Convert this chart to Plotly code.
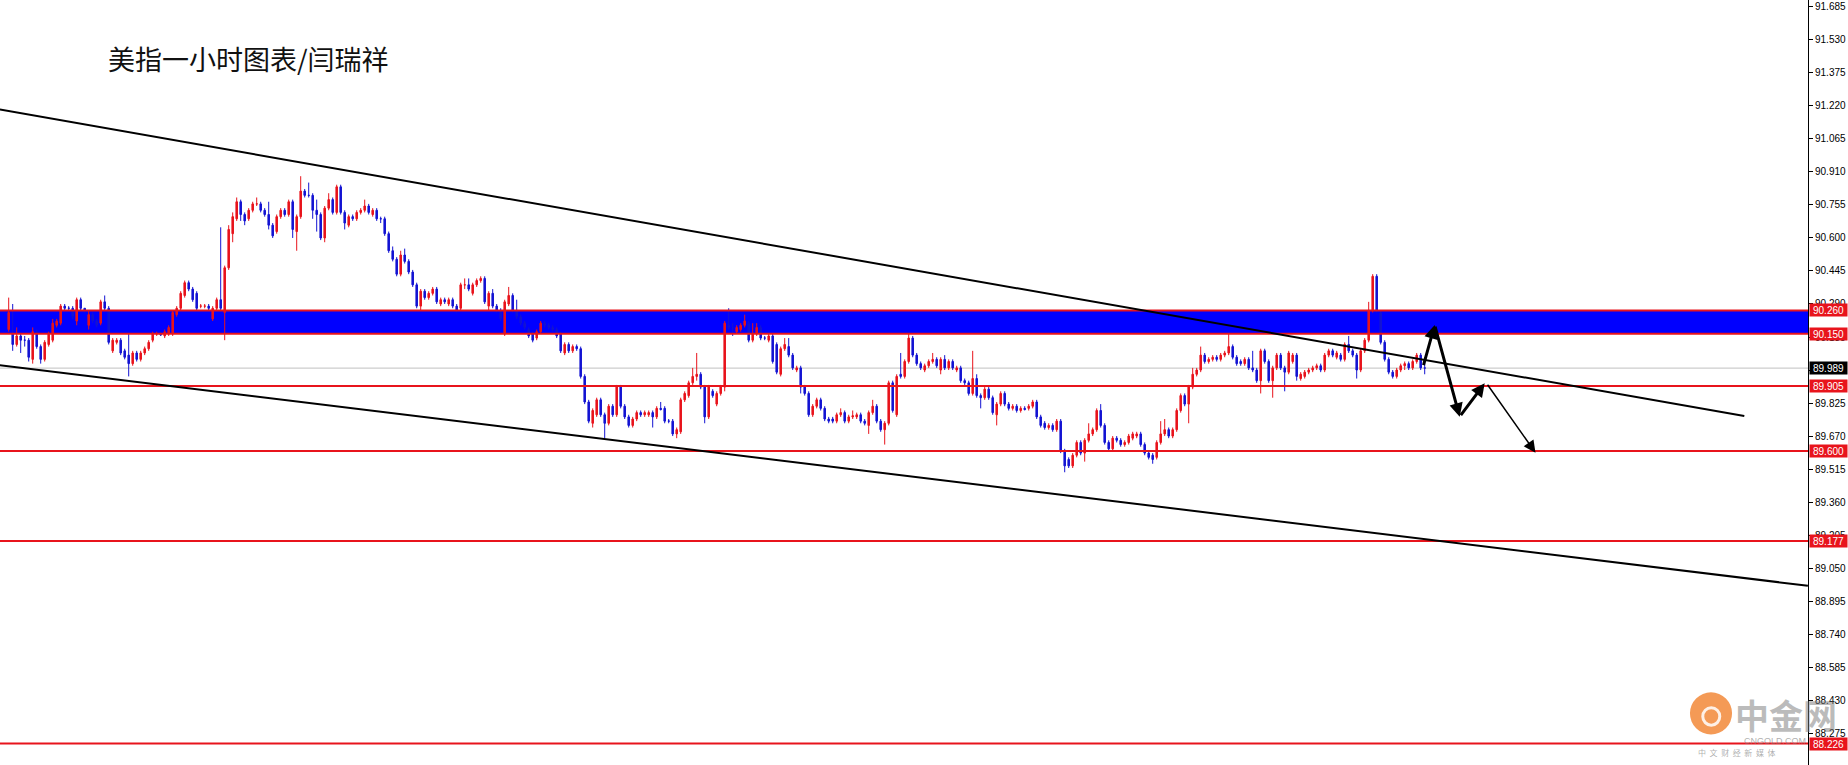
import plotly.graph_objects as go

# ---- hourly candles (bar index 0..354) ----
opens = [
    90.17, 90.15, 90.10, 90.14, 90.12, 90.12, 90.03, 90.16, 90.09, 90.03,
    90.10, 90.12, 90.19, 90.20, 90.28, 90.27, 90.27, 90.21, 90.31, 90.27,
    90.19, 90.24, 90.21, 90.20, 90.30, 90.27, 90.07, 90.11, 90.12, 90.07,
    90.05, 90.01, 90.06, 90.03, 90.06, 90.08, 90.12, 90.15, 90.15, 90.14,
    90.15, 90.15, 90.24, 90.27, 90.33, 90.39, 90.36, 90.34, 90.28, 90.28,
    90.28, 90.22, 90.27, 90.31, 90.25, 90.46, 90.62, 90.69, 90.77, 90.71,
    90.69, 90.73, 90.76, 90.76, 90.73, 90.71, 90.66, 90.63, 90.70, 90.73,
    90.71, 90.77, 90.63, 90.70, 90.82, 90.80, 90.80, 90.73, 90.71, 90.60,
    90.74, 90.78, 90.72, 90.84, 90.72, 90.66, 90.70, 90.69, 90.72, 90.73,
    90.75, 90.71, 90.73, 90.69, 90.69, 90.62, 90.54, 90.50, 90.43, 90.52,
    90.49, 90.44, 90.38, 90.28, 90.35, 90.32, 90.34, 90.36, 90.29, 90.31,
    90.29, 90.31, 90.28, 90.27, 90.38, 90.38, 90.34, 90.38, 90.40, 90.41,
    90.28, 90.34, 90.28, 90.26, 90.15, 90.29, 90.33, 90.26, 90.23, 90.20,
    90.17, 90.15, 90.13, 90.16, 90.20, 90.19, 90.18, 90.17, 90.15, 90.06,
    90.10, 90.07, 90.09, 90.08, 89.95, 89.83, 89.73, 89.77, 89.84, 89.77,
    89.73, 89.81, 89.77, 89.90, 89.81, 89.76, 89.72, 89.75, 89.78, 89.77,
    89.77, 89.78, 89.76, 89.80, 89.80, 89.74, 89.74, 89.68, 89.69, 89.84,
    89.86, 89.92, 89.95, 89.96, 89.90, 89.76, 89.88, 89.82, 89.87, 89.90,
    90.19, 90.18, 90.16, 90.17, 90.19, 90.20, 90.12, 90.15, 90.18, 90.13,
    90.12, 90.14, 90.10, 89.96, 90.08, 90.09, 90.05, 89.98, 89.99, 89.90,
    89.87, 89.77, 89.81, 89.84, 89.80, 89.75, 89.75, 89.74, 89.77, 89.78,
    89.74, 89.76, 89.76, 89.77, 89.74, 89.72, 89.78, 89.81, 89.74, 89.70,
    89.73, 89.92, 89.77, 89.96, 89.95, 90.02, 90.13, 90.05, 90.01, 89.98,
    90.00, 90.02, 90.03, 89.98, 90.03, 89.99, 90.02, 89.98, 89.99, 89.93,
    89.92, 89.87, 89.94, 89.86, 89.85, 89.89, 89.85, 89.77, 89.82, 89.87,
    89.82, 89.80, 89.81, 89.79, 89.80, 89.80, 89.81, 89.83, 89.76, 89.73,
    89.71, 89.72, 89.70, 89.74, 89.60, 89.56, 89.53, 89.58, 89.64, 89.59,
    89.65, 89.68, 89.70, 89.79, 89.72, 89.64, 89.61, 89.66, 89.65, 89.63,
    89.64, 89.66, 89.67, 89.68, 89.63, 89.59, 89.58, 89.57, 89.64, 89.68,
    89.70, 89.67, 89.70, 89.79, 89.86, 89.82, 89.90, 89.96, 89.98, 90.05,
    90.02, 90.03, 90.04, 90.03, 90.05, 90.06, 90.09, 90.04, 90.02, 90.01,
    90.03, 89.99, 89.98, 89.93, 90.07, 90.02, 89.93, 89.99, 90.05, 89.99,
    89.97, 90.02, 90.05, 89.94, 89.95, 89.97, 89.98, 89.99, 90.00, 89.98,
    90.05, 90.07, 90.04, 90.05, 90.03, 90.10, 90.07, 90.05, 89.98, 90.07,
    90.12, 90.26, 90.42, 90.25, 90.11, 90.03, 89.97, 89.95, 89.98, 90.00,
    90.01, 89.99, 90.02, 90.05, 89.99,
]
highs = [
    90.32, 90.29, 90.18, 90.15, 90.14, 90.13, 90.18, 90.17, 90.10, 90.12,
    90.16, 90.22, 90.22, 90.29, 90.29, 90.28, 90.28, 90.32, 90.32, 90.27,
    90.26, 90.25, 90.22, 90.31, 90.33, 90.28, 90.13, 90.13, 90.13, 90.08,
    90.15, 90.07, 90.07, 90.07, 90.09, 90.12, 90.16, 90.16, 90.16, 90.17,
    90.19, 90.26, 90.28, 90.35, 90.40, 90.40, 90.37, 90.35, 90.29, 90.29,
    90.29, 90.28, 90.32, 90.65, 90.47, 90.66, 90.72, 90.79, 90.78, 90.72,
    90.74, 90.77, 90.79, 90.77, 90.74, 90.77, 90.67, 90.71, 90.74, 90.74,
    90.78, 90.78, 90.71, 90.89, 90.83, 90.86, 90.81, 90.78, 90.72, 90.75,
    90.81, 90.79, 90.85, 90.85, 90.73, 90.71, 90.71, 90.73, 90.74, 90.78,
    90.76, 90.74, 90.74, 90.70, 90.70, 90.63, 90.56, 90.51, 90.54, 90.55,
    90.50, 90.45, 90.39, 90.36, 90.36, 90.35, 90.37, 90.37, 90.32, 90.32,
    90.32, 90.32, 90.29, 90.39, 90.41, 90.41, 90.39, 90.41, 90.42, 90.42,
    90.35, 90.36, 90.29, 90.27, 90.31, 90.37, 90.34, 90.31, 90.24, 90.21,
    90.18, 90.16, 90.17, 90.21, 90.21, 90.20, 90.19, 90.18, 90.16, 90.11,
    90.11, 90.10, 90.10, 90.09, 89.96, 89.84, 89.80, 89.85, 89.85, 89.78,
    89.82, 89.82, 89.91, 89.91, 89.82, 89.77, 89.76, 89.79, 89.79, 89.79,
    89.79, 89.79, 89.81, 89.83, 89.81, 89.75, 89.75, 89.71, 89.85, 89.88,
    89.93, 89.99, 90.06, 89.97, 89.91, 89.91, 89.89, 89.88, 89.91, 90.21,
    90.27, 90.20, 90.19, 90.20, 90.24, 90.21, 90.20, 90.20, 90.19, 90.14,
    90.15, 90.15, 90.11, 90.09, 90.13, 90.13, 90.06, 90.00, 90.00, 89.91,
    89.88, 89.82, 89.85, 89.85, 89.81, 89.76, 89.76, 89.78, 89.80, 89.79,
    89.77, 89.79, 89.78, 89.78, 89.75, 89.79, 89.84, 89.82, 89.75, 89.74,
    89.93, 89.93, 89.96, 90.06, 90.03, 90.15, 90.14, 90.06, 90.02, 90.01,
    90.03, 90.06, 90.04, 90.04, 90.05, 90.03, 90.03, 90.00, 90.00, 89.94,
    89.93, 90.07, 89.96, 89.87, 89.90, 89.90, 89.86, 89.83, 89.88, 89.88,
    89.83, 89.82, 89.82, 89.81, 89.81, 89.82, 89.84, 89.84, 89.77, 89.74,
    89.73, 89.73, 89.75, 89.75, 89.61, 89.57, 89.59, 89.65, 89.65, 89.66,
    89.73, 89.71, 89.80, 89.82, 89.73, 89.65, 89.67, 89.67, 89.66, 89.65,
    89.68, 89.69, 89.69, 89.69, 89.64, 89.60, 89.59, 89.65, 89.74, 89.75,
    89.71, 89.71, 89.80, 89.87, 89.87, 89.91, 89.99, 89.99, 90.09, 90.06,
    90.04, 90.05, 90.05, 90.06, 90.07, 90.15, 90.10, 90.05, 90.03, 90.04,
    90.04, 90.07, 89.99, 90.08, 90.08, 90.03, 90.00, 90.06, 90.06, 90.00,
    90.07, 90.06, 90.06, 89.97, 89.98, 89.99, 90.00, 90.01, 90.01, 90.06,
    90.08, 90.08, 90.07, 90.06, 90.11, 90.14, 90.08, 90.06, 90.08, 90.13,
    90.30, 90.43, 90.43, 90.26, 90.12, 90.04, 89.98, 89.99, 90.01, 90.02,
    90.02, 90.03, 90.06, 90.06, 90.04,
]
lows = [
    90.16, 90.07, 90.09, 90.06, 90.09, 90.02, 90.01, 90.08, 90.01, 90.02,
    90.09, 90.11, 90.18, 90.19, 90.26, 90.26, 90.22, 90.19, 90.26, 90.25,
    90.17, 90.20, 90.18, 90.19, 90.26, 90.10, 90.06, 90.10, 90.05, 90.03,
    89.95, 90.00, 90.02, 90.02, 90.05, 90.07, 90.11, 90.14, 90.14, 90.13,
    90.14, 90.14, 90.23, 90.26, 90.32, 90.35, 90.30, 90.26, 90.27, 90.27,
    90.26, 90.21, 90.26, 90.26, 90.12, 90.45, 90.58, 90.68, 90.68, 90.66,
    90.68, 90.72, 90.75, 90.72, 90.70, 90.64, 90.60, 90.62, 90.69, 90.70,
    90.70, 90.60, 90.54, 90.69, 90.79, 90.79, 90.69, 90.63, 90.59, 90.58,
    90.73, 90.71, 90.71, 90.71, 90.64, 90.65, 90.68, 90.68, 90.71, 90.72,
    90.71, 90.70, 90.68, 90.67, 90.61, 90.53, 90.49, 90.42, 90.42, 90.48,
    90.43, 90.37, 90.27, 90.26, 90.31, 90.31, 90.33, 90.29, 90.28, 90.29,
    90.28, 90.27, 90.25, 90.26, 90.36, 90.35, 90.33, 90.37, 90.39, 90.29,
    90.26, 90.27, 90.25, 90.21, 90.14, 90.28, 90.25, 90.22, 90.19, 90.17,
    90.13, 90.11, 90.12, 90.15, 90.18, 90.17, 90.16, 90.13, 90.06, 90.05,
    90.06, 90.06, 90.07, 89.94, 89.82, 89.73, 89.71, 89.76, 89.76, 89.66,
    89.72, 89.76, 89.76, 89.80, 89.75, 89.71, 89.71, 89.74, 89.76, 89.76,
    89.76, 89.71, 89.75, 89.79, 89.73, 89.73, 89.67, 89.66, 89.68, 89.83,
    89.85, 89.91, 89.93, 89.89, 89.73, 89.75, 89.85, 89.81, 89.86, 89.88,
    90.17, 90.14, 90.15, 90.16, 90.18, 90.11, 90.11, 90.14, 90.12, 90.12,
    90.11, 90.01, 89.96, 89.95, 90.07, 90.04, 89.98, 89.97, 89.87, 89.86,
    89.76, 89.76, 89.80, 89.79, 89.74, 89.73, 89.73, 89.73, 89.76, 89.73,
    89.73, 89.75, 89.75, 89.73, 89.72, 89.68, 89.77, 89.73, 89.69, 89.63,
    89.72, 89.78, 89.76, 89.94, 89.94, 90.01, 90.04, 90.00, 89.98, 89.97,
    89.99, 90.01, 89.99, 89.96, 89.98, 89.98, 89.98, 89.97, 89.92, 89.91,
    89.86, 89.86, 89.85, 89.80, 89.84, 89.84, 89.77, 89.72, 89.81, 89.81,
    89.79, 89.79, 89.78, 89.78, 89.79, 89.79, 89.80, 89.75, 89.71, 89.70,
    89.70, 89.69, 89.69, 89.59, 89.50, 89.52, 89.52, 89.57, 89.58, 89.55,
    89.64, 89.67, 89.69, 89.71, 89.63, 89.60, 89.60, 89.64, 89.62, 89.62,
    89.63, 89.65, 89.66, 89.62, 89.58, 89.56, 89.54, 89.56, 89.63, 89.67,
    89.66, 89.66, 89.69, 89.78, 89.81, 89.73, 89.89, 89.95, 89.97, 90.01,
    90.01, 90.02, 90.02, 90.02, 90.04, 90.05, 90.03, 90.00, 90.00, 90.00,
    89.98, 89.97, 89.92, 89.87, 90.01, 89.92, 89.85, 89.98, 89.98, 89.88,
    89.96, 90.01, 89.93, 89.93, 89.94, 89.96, 89.97, 89.98, 89.97, 89.97,
    90.04, 90.04, 90.03, 90.02, 90.02, 90.06, 90.04, 89.94, 89.97, 90.06,
    90.11, 90.25, 90.25, 90.10, 90.02, 89.96, 89.94, 89.94, 89.97, 89.98,
    89.98, 89.98, 90.01, 89.98, 89.96,
]
closes = [
    90.25, 90.10, 90.14, 90.12, 90.12, 90.04, 90.16, 90.09, 90.03, 90.11,
    90.15, 90.20, 90.21, 90.28, 90.27, 90.27, 90.23, 90.31, 90.27, 90.26,
    90.24, 90.21, 90.19, 90.30, 90.27, 90.11, 90.12, 90.12, 90.06, 90.04,
    90.01, 90.06, 90.03, 90.06, 90.08, 90.11, 90.15, 90.15, 90.145, 90.16,
    90.18, 90.25, 90.27, 90.34, 90.39, 90.36, 90.31, 90.27, 90.28, 90.28,
    90.27, 90.27, 90.31, 90.27, 90.46, 90.64, 90.70, 90.77, 90.71, 90.68,
    90.73, 90.76, 90.76, 90.73, 90.71, 90.66, 90.61, 90.70, 90.73, 90.71,
    90.77, 90.64, 90.70, 90.82, 90.80, 90.80, 90.73, 90.71, 90.60, 90.74,
    90.78, 90.72, 90.84, 90.72, 90.67, 90.70, 90.69, 90.72, 90.73, 90.75,
    90.72, 90.73, 90.69, 90.69, 90.62, 90.54, 90.50, 90.43, 90.52, 90.49,
    90.44, 90.38, 90.28, 90.35, 90.32, 90.34, 90.36, 90.30, 90.31, 90.30,
    90.31, 90.28, 90.26, 90.38, 90.38, 90.36, 90.38, 90.40, 90.41, 90.30,
    90.34, 90.28, 90.26, 90.22, 90.30, 90.33, 90.26, 90.23, 90.20, 90.18,
    90.14, 90.12, 90.16, 90.20, 90.19, 90.18, 90.17, 90.14, 90.07, 90.10,
    90.07, 90.09, 90.08, 89.95, 89.83, 89.74, 89.79, 89.84, 89.77, 89.73,
    89.81, 89.77, 89.90, 89.81, 89.76, 89.72, 89.75, 89.78, 89.77, 89.78,
    89.78, 89.76, 89.80, 89.795, 89.74, 89.74, 89.68, 89.70, 89.84, 89.87,
    89.92, 89.95, 89.96, 89.90, 89.76, 89.90, 89.86, 89.87, 89.90, 90.20,
    90.18, 90.18, 90.18, 90.19, 90.21, 90.12, 90.15, 90.18, 90.13, 90.13,
    90.14, 90.02, 89.97, 90.08, 90.10, 90.05, 89.99, 89.99, 89.90, 89.87,
    89.77, 89.81, 89.84, 89.80, 89.75, 89.74, 89.74, 89.77, 89.78, 89.74,
    89.76, 89.765, 89.77, 89.74, 89.73, 89.78, 89.81, 89.74, 89.70, 89.73,
    89.92, 89.79, 89.95, 89.95, 90.02, 90.13, 90.05, 90.01, 89.99, 90.00,
    90.02, 90.03, 90.00, 90.03, 89.99, 90.02, 89.99, 89.99, 89.93, 89.92,
    89.87, 89.94, 89.86, 89.85, 89.89, 89.85, 89.78, 89.82, 89.87, 89.82,
    89.80, 89.81, 89.79, 89.80, 89.795, 89.81, 89.83, 89.76, 89.72, 89.71,
    89.72, 89.70, 89.74, 89.60, 89.53, 89.53, 89.58, 89.64, 89.59, 89.65,
    89.68, 89.70, 89.79, 89.72, 89.64, 89.61, 89.66, 89.65, 89.63, 89.64,
    89.67, 89.68, 89.68, 89.63, 89.59, 89.57, 89.56, 89.64, 89.68, 89.70,
    89.67, 89.70, 89.79, 89.86, 89.82, 89.90, 89.96, 89.98, 90.05, 90.02,
    90.03, 90.04, 90.03, 90.05, 90.06, 90.09, 90.04, 90.01, 90.01, 90.03,
    89.99, 89.98, 89.93, 90.07, 90.02, 89.93, 89.99, 90.05, 89.99, 89.97,
    90.06, 90.05, 89.95, 89.96, 89.97, 89.98, 89.99, 90.00, 89.98, 90.05,
    90.07, 90.05, 90.06, 90.03, 90.10, 90.07, 90.05, 89.98, 90.07, 90.12,
    90.26, 90.42, 90.26, 90.11, 90.03, 89.97, 89.95, 89.98, 90.00, 90.01,
    89.99, 90.02, 90.05, 89.99, 89.989,
]

# horizontal levels (red), resistance zone, current bid
red_levels = [90.260, 90.150, 89.905, 89.600, 89.177, 88.226]
zone = (90.150, 90.260)
bid = 89.989

# trend lines: (bar index, price) pairs
upper_trend = [(-2.2, 91.203), (433.9, 89.764)]
lower_trend = [(-2.2, 90.002), (449.8, 88.967)]

# hand-drawn forecast path (bar index, price)
forecast_thick = [(353.6, 89.996), (356.5, 90.191), (362.75, 89.761), (369.0, 89.918)]
forecast_thin = [(369.45, 89.918), (381.7, 89.592)]

tick_vals = [88.120 + 0.155 * k for k in range(24)]
tick_text = ["%.3f" % v for v in tick_vals]

RED = "#e8141c"
BLUE = "#1414d2"

fig = go.Figure()
fig.add_trace(go.Candlestick(
    x=list(range(len(closes))),
    open=opens, high=highs, low=lows, close=closes,
    increasing=dict(line=dict(color=RED, width=1), fillcolor=RED),
    decreasing=dict(line=dict(color=BLUE, width=1), fillcolor=BLUE),
    whiskerwidth=0,
    hoverinfo="skip",
    showlegend=False,
))

shapes = [
    dict(type="rect", xref="paper", yref="y", x0=0, x1=1, y0=zone[0], y1=zone[1],
         fillcolor="#0000ff", line=dict(width=0), layer="below"),
    dict(type="line", xref="paper", yref="y", x0=0, x1=1, y0=bid, y1=bid,
         line=dict(color="#c0c0c0", width=1), layer="below"),
]
for lv in red_levels:
    shapes.append(dict(type="line", xref="paper", yref="y", x0=0, x1=1, y0=lv, y1=lv,
                       line=dict(color=RED, width=2), layer="above"))
for tl in (upper_trend, lower_trend):
    shapes.append(dict(type="line", xref="x", yref="y", x0=tl[0][0], y0=tl[0][1],
                       x1=tl[1][0], y1=tl[1][1], line=dict(color="black", width=2),
                       layer="above"))
# watermark logo disc with a light swirl
shapes.append(dict(type="circle", xref="paper", yref="paper", x0=0.9347, x1=0.958,
                   y0=0.040, y1=0.095, fillcolor="rgba(240,120,30,0.75)",
                   line=dict(width=0)))
shapes.append(dict(type="circle", xref="paper", yref="paper", x0=0.9418, x1=0.9512,
                   y0=0.052, y1=0.075, fillcolor="rgba(0,0,0,0)",
                   line=dict(color="rgba(255,255,255,0.85)", width=3)))

annotations = []
# price boxes on the right axis
for lv in red_levels:
    annotations.append(dict(x=1, xref="paper", y=lv, yref="y", xanchor="left", xshift=1,
                            text="%.3f" % lv, showarrow=False, bgcolor=RED, width=37,
                            height=12, borderpad=0,
                            font=dict(family="Liberation Sans", size=10, color="white")))
annotations.append(dict(x=1, xref="paper", y=bid, yref="y", xanchor="left", xshift=1,
                        text="%.3f" % bid, showarrow=False, bgcolor="black", width=37,
                        height=12, borderpad=0,
                        font=dict(family="Liberation Sans", size=10, color="white")))
# forecast arrows
for (x0, y0), (x1, y1) in zip(forecast_thick[:-1], forecast_thick[1:]):
    annotations.append(dict(x=x1, y=y1, ax=x0, ay=y0, xref="x", yref="y", axref="x",
                            ayref="y", text="", showarrow=True, arrowhead=2,
                            arrowsize=0.9, arrowwidth=3, arrowcolor="black", standoff=0))
annotations.append(dict(x=forecast_thin[1][0], y=forecast_thin[1][1],
                        ax=forecast_thin[0][0], ay=forecast_thin[0][1],
                        xref="x", yref="y", axref="x", ayref="y", text="",
                        showarrow=True, arrowhead=2, arrowsize=1.6, arrowwidth=1.5,
                        arrowcolor="black", standoff=0))
# title
annotations.append(dict(x=0.0586, y=0.923, xref="paper", yref="paper", xanchor="left",
                        yanchor="middle", text="美指一小时图表/闫瑞祥", showarrow=False,
                        font=dict(family="Noto Sans CJK SC", size=27, color="#111111")))
# watermark text
annotations.append(dict(x=0.9585, y=0.066, xref="paper", yref="paper", xanchor="left",
                        yanchor="middle", text="<b>中金网</b>", showarrow=False,
                        font=dict(family="Noto Sans CJK SC", size=34,
                                  color="rgba(120,120,120,0.5)")))
annotations.append(dict(x=0.9635, y=0.032, xref="paper", yref="paper", xanchor="left",
                        yanchor="middle", text="CNGOLD.COM", showarrow=False,
                        font=dict(family="Liberation Sans", size=9,
                                  color="rgba(120,120,120,0.6)")))
annotations.append(dict(x=0.938, y=0.016, xref="paper", yref="paper", xanchor="left",
                        yanchor="middle", text="中  文  财  经  新  媒  体", showarrow=False,
                        font=dict(family="Noto Sans CJK SC", size=8,
                                  color="rgba(120,120,120,0.6)")))

fig.update_layout(
    width=1848, height=765,
    margin=dict(l=0, r=40, t=0, b=0, pad=0),
    paper_bgcolor="white", plot_bgcolor="white",
    boxgap=0.45,
    shapes=shapes, annotations=annotations,
    showlegend=False,
    xaxis=dict(visible=False, range=[-2.175, 449.825], rangeslider=dict(visible=False),
               fixedrange=True),
    yaxis=dict(side="right", range=[88.1256, 91.7172], showgrid=False, zeroline=False,
               showline=True, linecolor="black", linewidth=1, ticks="outside",
               ticklen=4, tickcolor="black", tickvals=tick_vals, ticktext=tick_text,
               tickfont=dict(family="Liberation Sans", size=10, color="black"),
               fixedrange=True),
)

fig.write_html("out.html", config={"displayModeBar": False},
               post_script="document.body.style.margin='0';")
